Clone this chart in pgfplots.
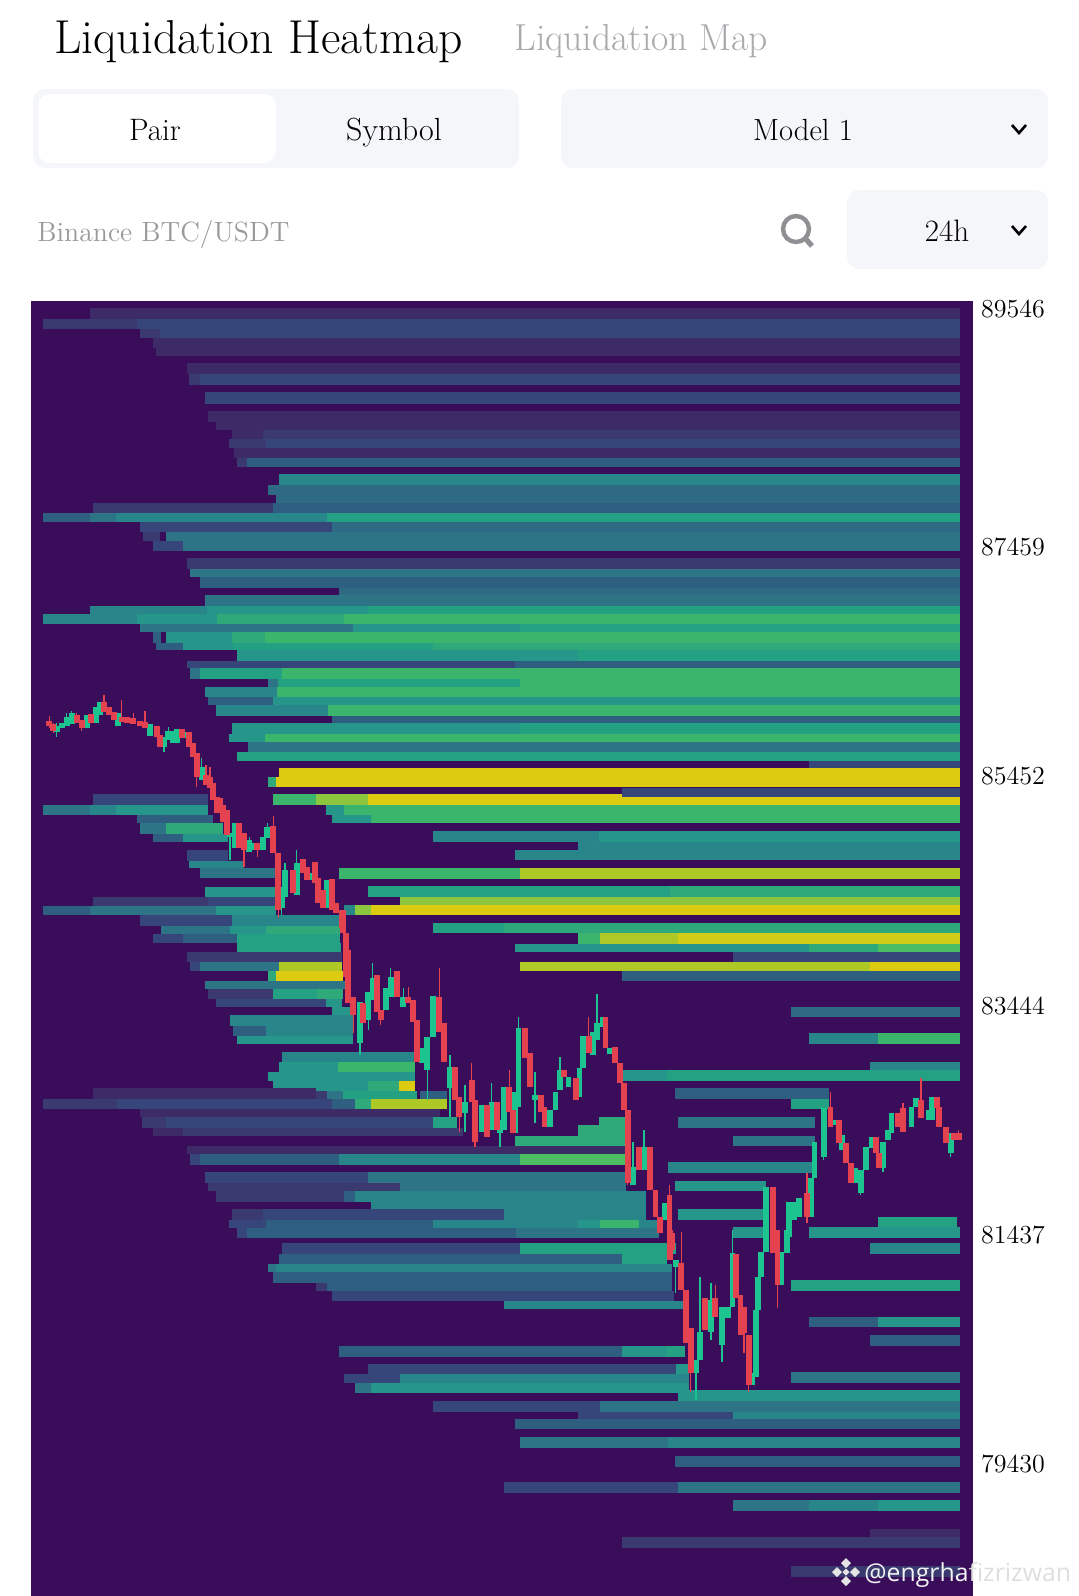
\documentclass[border=0pt]{standalone}
\usepackage{fontspec}
\usepackage{pgfplots}
\usepackage{pgfplotstable}
\pgfplotsset{compat=1.18}
\newfontfamily\wmfont{Open Sans}

\definecolor{bg}{HTML}{3A0D5A}
\definecolor{v1}{HTML}{3C2B66}
\definecolor{v2}{HTML}{3B3A70}
\definecolor{v3}{HTML}{36467A}
\definecolor{v4}{HTML}{2F5F80}
\definecolor{v45}{HTML}{2E6A83}
\definecolor{v5}{HTML}{2C7486}
\definecolor{v6}{HTML}{28868A}
\definecolor{v7}{HTML}{26958A}
\definecolor{v8}{HTML}{24A083}
\definecolor{v9}{HTML}{2FA97A}
\definecolor{v10}{HTML}{3CB56C}
\definecolor{v11}{HTML}{4CBD62}
\definecolor{v12}{HTML}{8CC63F}
\definecolor{v13}{HTML}{AEC826}
\definecolor{v135}{HTML}{D0CC18}
\definecolor{v14}{HTML}{DCCB10}
\definecolor{upc}{HTML}{1CC490}
\definecolor{downc}{HTML}{E5424F}
\definecolor{pill}{HTML}{F5F6FA}
\definecolor{greytxt}{HTML}{A9A9AE}

% one heat band: colour, x from, x to, price top, price bottom
\newcommand{\band}[5]{\addplot[draw=none,fill=#1,forget plot] coordinates {(#2,#4)(#3,#4)(#3,#5)(#2,#5)} -- cycle;}

% candles: x high top bottom low
\pgfplotstableread{
x h t b l
49.3 85981 85940 85893 85873
53.3 85917 85911 85852 85829
76.7 86004 85990 85922 85922
81.7 85946 85946 85873 85852
90.7 85998 85998 85922 85922
104 86165 86106 86019 86019
109.3 86057 86057 85990 85990
114 86019 86019 85946 85946
121.7 86121 85975 85931 85931
126.7 85969 85969 85922 85922
133.3 86004 85960 85911 85911
140 85940 85940 85893 85893
145 86028 85931 85873 85873
156.7 85893 85893 85794 85794
160 85814 85814 85712 85712
181.7 85864 85864 85785 85785
189.3 85844 85844 85712 85712
192.7 85741 85741 85625 85625
196.7 85654 85654 85449 85362
206 85552 85464 85376 85376
210 85537 85449 85347 85347
213.3 85391 85391 85245 85245
216.7 85274 85274 85128 85128
220 85260 85260 85172 85172
223.3 85201 85201 85055 85055
226.7 85157 85157 84938 84938
239.3 85041 85041 84822 84822
244 84953 84953 84807 84661
257.3 84865 84865 84807 84749
273.3 85105 85017 84778 84778
278.3 84778 84778 84281 84208
292.7 84632 84632 84427 84427
302.7 84725 84725 84603 84603
306.7 84661 84661 84544 84544
315 84705 84705 84515 84515
318.3 84559 84559 84340 84340
323.3 84457 84457 84296 84296
331.7 84550 84550 84281 84281
336 84340 84340 84252 84252
341.7 84281 84281 84121 84121
343.3 84281 84281 84077 84077
346 84077 84077 83697 83697
348.3 83931 83931 83464 83464
353.3 83522 83522 83362 83201
363.3 83464 83464 83289 83289
376.7 83712 83712 83391 83391
380.7 83405 83405 83318 83274
396.7 83750 83750 83522 83522
408.3 83610 83522 83464 83464
412.7 83493 83493 83303 83303
417.3 83318 83318 82953 82953
439.3 83770 83522 83216 83216
444 83289 83289 82953 82953
455 82909 82909 82617 82617
459.3 82646 82646 82471 82340
471.7 82938 82792 82602 82602
475 82617 82617 82252 82208
486.7 82573 82573 82296 82296
496.7 82602 82602 82354 82354
509.3 82880 82734 82515 82515
513.3 82529 82529 82325 82325
525 83245 83245 82982 82982
529.6 83026 83026 82734 82734
540.7 82661 82661 82515 82515
544.4 82559 82559 82383 82383
563.6 82880 82880 82821 82821
576 82807 82807 82617 82617
588.8 83347 83178 83026 83026
605.5 83341 83341 83070 83070
614.7 83084 83084 82938 82938
620 82938 82938 82763 82763
624 82763 82763 82529 82529
627.7 82529 82529 81887 81872
638.8 82208 82208 82004 82004
650 82208 82208 81829 81829
655.4 81829 81829 81595 81595
660 81595 81595 81449 81449
669.5 81872 81785 81449 81449
672 81449 81449 81303 81303
670 81478 81478 81215 81215
681.3 81463 81186 80952 80952
686 80952 80952 80485 80485
690.6 80617 80617 80222 80062
705 80879 80879 80602 80602
715.3 80996 80879 80719 80719
736 81268 81268 80879 80879
740.5 80909 80909 80558 80558
744 80806 80806 80573 80398
748.6 80558 80558 80120 80062
773 81852 81852 81274 81274
777.5 81478 81478 80996 80792
807 81975 81799 81595 81537
830.4 82690 82559 82383 82383
838.6 82442 82442 82237 82237
846 82237 82237 82062 82062
850.8 82062 82062 81887 81887
875.6 82296 82296 82150 82150
879 82150 82150 82018 82018
897.8 82500 82500 82383 82383
903 82588 82544 82340 82340
921 82807 82617 82456 82456
936.6 82646 82646 82544 82544
939 82559 82559 82383 82383
946 82383 82383 82237 82237
954 82325 82325 82267 82267
958.8 82354 82325 82267 82267
}\downtable

\pgfplotstableread{
x h t b l
56.7 85917 85893 85844 85800
61.7 85917 85917 85873 85873
66.7 86004 85969 85893 85893
71.7 86028 86004 85911 85911
86.7 85990 85990 85873 85873
96 86057 86057 85917 85917
100 86106 86106 85990 85990
118.3 86010 86010 85893 85893
150 85911 85911 85806 85806
164 85794 85794 85712 85668
168.3 85887 85852 85771 85771
173.3 85852 85852 85741 85741
177.3 85864 85864 85741 85741
185.7 85844 85844 85785 85785
201.7 85610 85537 85420 85420
230 84953 84953 84924 84719
235 85041 85041 84822 84822
249.3 84924 84895 84792 84792
253.3 84865 84865 84807 84807
262.7 84924 84924 84807 84807
267.3 85041 85011 84909 84909
281.7 84486 84486 84296 84238
285 84690 84632 84398 84398
296.7 84807 84690 84413 84413
310.7 84603 84603 84544 84544
327.3 84544 84544 84296 84296
360 83478 83478 83113 83011
368.3 83566 83566 83318 83230
372.7 83820 83683 83493 83493
386 83595 83595 83405 83405
390.7 83770 83697 83522 83522
403.3 83595 83522 83435 83435
421.7 83070 83070 82938 82938
427.3 83172 83172 82880 82617
433.3 83528 83528 83172 83172
450 83011 82909 82719 82471
465 82748 82602 82500 82340
481.7 82573 82573 82340 82340
491.7 82763 82602 82354 82354
500 82442 82442 82325 82208
504 82734 82734 82354 82354
515 82690 82690 82325 82325
518.5 83347 83245 82559 82559
535 82865 82661 82617 82413
550 82529 82529 82383 82383
555.5 82690 82690 82529 82529
560 82997 82880 82705 82705
568.5 82821 82821 82734 82734
579.5 82894 82894 82646 82646
583 83178 83178 82894 82894
593 83216 83216 83011 83011
597 83546 83289 83143 83143
602.5 83341 83341 83259 83259
610 83070 83070 83020 83020
633 82252 82033 81872 81872
644 82354 82208 82004 82004
665 81712 81712 81566 81566
675.8 81215 81215 81157 80923
696 80339 80339 80222 79989
700 81069 80587 80339 80339
711 81011 80865 80587 80514
722 80806 80806 80471 80325
727.6 80806 80806 80704 80704
732.4 81478 81279 80806 80806
752 80222 80222 80120 80120
756 80777 80777 80193 80193
758 81069 81069 80777 80777
761 81288 81288 81069 81069
765.7 81852 81852 81288 81288
781 81288 81288 80996 80996
786.8 81478 81478 81274 81274
788.6 81726 81726 81420 81420
794 81726 81726 81566 81566
799 81755 81755 81595 81595
810.8 81931 81931 81595 81595
814.5 82252 82252 81931 81931
823.8 82544 82544 82121 82091
834.9 82442 82442 82398 82398
842 82310 82310 82179 82179
855 82018 82018 81887 81887
860.8 82004 82004 81799 81785
866 82208 82208 82004 82004
872 82296 82296 82194 82194
883 82252 82252 82018 81989
887.8 82354 82354 82267 82267
891.5 82500 82500 82325 82325
911.4 82559 82559 82383 82383
916 82631 82631 82559 82559
928.5 82529 82529 82442 82442
932 82646 82646 82442 82442
950.7 82325 82325 82150 82121
}\uptable

\begin{document}
\begin{tikzpicture}[x=0.5pt,y=-0.5pt]
\path[use as bounding box] (0,0) rectangle (1079,1596);
\coordinate (axpos) at (31,1596);

% header
\node[anchor=base west,inner sep=0pt,font=\fontsize{23.8}{24}\selectfont] at (54,53) {Liquidation Heatmap};
\node[anchor=base west,inner sep=0pt,text=greytxt,font=\fontsize{18.8}{18.8}\selectfont] at (514,50) {Liquidation Map};
\fill[pill,rounded corners=6pt] (33,89) rectangle (519,168);
\fill[white,rounded corners=6pt] (38,94) rectangle (276,163);
\fill[pill,rounded corners=6pt] (561,89) rectangle (1048,168);
\fill[pill,rounded corners=6pt] (847,190) rectangle (1048,269);
\node[font=\fontsize{15.5}{15.5}\selectfont,anchor=base] at (155,140) {Pair};
\node[font=\fontsize{16}{16}\selectfont,anchor=base] at (394,140) {Symbol};
\node[font=\fontsize{15.3}{15.3}\selectfont,anchor=base] at (803,140) {Model 1};
\node[font=\fontsize{15.5}{15.5}\selectfont,anchor=base] at (947,241) {24h};
\node[anchor=base west,inner sep=0pt,text=greytxt!90!black,font=\fontsize{13.9}{13.9}\selectfont] at (37,241) {Binance BTC/USDT};
\draw[black,line width=1.3pt] (1012,125) -- (1019,133) -- (1026,125);
\draw[black,line width=1.3pt] (1012,226) -- (1019,234) -- (1026,226);
\draw[greytxt!85!black,line width=2.2pt] (796,229) circle[radius=13];
\draw[greytxt!85!black,line width=2.6pt] (805,238) -- (812,246);

\begin{axis}[
    at={(axpos)},anchor=south west,
    scale only axis,width=471pt,height=647.5pt,
    xmin=31,xmax=973,ymin=78272,ymax=89616,
    axis background/.style={fill=bg},
    axis line style={draw=none},
    xtick=\empty,
    ytick={89546,87459,85452,83444,81437,79430},
    yticklabels={89546,87459,85452,83444,81437,79430},
    scaled y ticks=false,
    yticklabel pos=right,
    major tick length=0pt,
    yticklabel style={anchor=west,xshift=0.5pt,font=\fontsize{13}{13}\selectfont},
]
% upper bands
\band{v1}{90}{960}{89555}{89459}
\band{v2}{43}{137}{89459}{89371}
\band{v3}{137}{960}{89459}{89371}
\band{v2}{140}{160}{89371}{89292}
\band{v3}{160}{960}{89371}{89292}
\band{v1}{153}{960}{89292}{89205}
\band{v1}{156}{960}{89205}{89134}
\band{v1}{187}{960}{89073}{88977}
\band{v2}{189}{200}{88977}{88880}
\band{v3}{200}{960}{88977}{88880}
\band{v3}{205}{960}{88819}{88714}
\band{v1}{208}{960}{88653}{88556}
\band{v1}{216}{960}{88556}{88486}
\band{v1}{232}{263}{88486}{88407}
\band{v2}{263}{960}{88486}{88407}
\band{v2}{229}{266}{88407}{88329}
\band{v3}{266}{960}{88407}{88329}
\band{v1}{234}{960}{88329}{88241}
\band{v2}{237}{247}{88241}{88162}
\band{v4}{247}{960}{88241}{88162}
\band{v6}{279}{960}{88101}{88004}
\band{v45}{268}{960}{88004}{87917}
\band{v45}{276}{960}{87917}{87847}
\band{v2}{93}{273}{87847}{87759}
\band{v4}{273}{960}{87847}{87759}
\band{v4}{43}{90}{87759}{87680}
\band{v5}{90}{116}{87759}{87680}
\band{v6}{116}{327}{87759}{87680}
\band{v8}{327}{960}{87759}{87680}
\band{v3}{140}{332}{87680}{87593}
\band{v45}{332}{960}{87680}{87593}
\band{v2}{143}{160}{87593}{87514}
\band{v5}{166}{960}{87593}{87514}
\band{v3}{153}{183}{87514}{87426}
\band{v5}{183}{960}{87514}{87426}
\band{v2}{187}{960}{87365}{87269}
\band{v5}{190}{960}{87269}{87198}
\band{v4}{200}{960}{87198}{87102}
\band{v45}{339}{960}{87102}{87041}
\band{v5}{205}{960}{87041}{86944}
\band{v6}{90}{207}{86944}{86874}
\band{v7}{207}{368}{86944}{86874}
\band{v8}{368}{960}{86944}{86874}
\band{v6}{43}{137}{86874}{86787}
\band{v7}{137}{217}{86874}{86787}
\band{v9}{217}{344}{86874}{86787}
\band{v10}{344}{960}{86874}{86787}
\band{v5}{140}{353}{86787}{86717}
\band{v7}{353}{520}{86787}{86717}
\band{v8}{520}{960}{86787}{86717}
\band{v4}{153}{161}{86717}{86620}
\band{v7}{166}{232}{86717}{86620}
\band{v9}{232}{265}{86717}{86620}
\band{v10}{265}{960}{86717}{86620}
\band{v4}{156}{183}{86620}{86559}
\band{v7}{183}{233}{86620}{86559}
\band{v8}{233}{433}{86620}{86559}
\band{v9}{433}{960}{86620}{86559}
\band{v7}{237}{578}{86559}{86463}
\band{v8}{578}{960}{86559}{86463}
\band{v3}{187}{515}{86463}{86401}
\band{v4}{515}{960}{86463}{86401}
\band{v5}{190}{200}{86401}{86305}
\band{v8}{200}{282}{86401}{86305}
\band{v10}{282}{960}{86401}{86305}
\band{v5}{268}{278}{86305}{86235}
\band{v8}{278}{520}{86305}{86235}
\band{v10}{520}{960}{86305}{86235}
\band{v6}{205}{277}{86235}{86147}
\band{v10}{277}{960}{86235}{86147}
\band{v4}{208}{273}{86147}{86077}
\band{v7}{273}{960}{86147}{86077}
\band{v6}{216}{328}{86077}{85981}
\band{v10}{328}{960}{86077}{85981}
\band{v4}{332}{960}{85981}{85920}
\band{v7}{232}{520}{85920}{85823}
\band{v8}{520}{960}{85920}{85823}
\band{v7}{229}{265}{85823}{85753}
\band{v10}{265}{960}{85823}{85753}
\band{v5}{248}{960}{85753}{85665}
\band{v8}{237}{960}{85665}{85587}
\band{v3}{809}{960}{85587}{85525}
\band{v14}{279}{960}{85525}{85446}
\band{v9}{268}{276}{85446}{85359}
\band{v14}{276}{960}{85446}{85359}
\band{v10}{273}{316}{85298}{85201}
\band{v12}{316}{368}{85298}{85201}
\band{v14}{368}{960}{85298}{85201}
\band{v3}{622}{960}{85350}{85271}
\band{v7}{326}{344}{85201}{85114}
\band{v10}{344}{960}{85201}{85114}
\band{v7}{332}{371}{85114}{85044}
\band{v10}{371}{960}{85114}{85044}
\band{v6}{433}{599}{84973}{84877}
\band{v7}{599}{960}{84973}{84877}
\band{v6}{578}{960}{84877}{84807}
\band{v6}{515}{960}{84807}{84719}
\band{v10}{339}{520}{84649}{84553}
\band{v13}{520}{960}{84649}{84553}
\band{v8}{368}{670}{84492}{84395}
\band{v9}{670}{960}{84492}{84395}
\band{v12}{400}{960}{84395}{84325}
\band{v6}{344}{355}{84325}{84238}
\band{v12}{355}{371}{84325}{84238}
\band{v14}{371}{960}{84325}{84238}
\band{v8}{433}{504}{84168}{84080}
\band{v9}{504}{960}{84168}{84080}
\band{v10}{578}{600}{84080}{83984}
\band{v13}{600}{678}{84080}{83984}
\band{v135}{678}{960}{84080}{83984}
\band{v7}{515}{809}{83984}{83913}
\band{v9}{809}{878}{83984}{83913}
\band{v11}{878}{960}{83984}{83913}
\band{v3}{733}{960}{83913}{83826}
\band{v13}{520}{870}{83826}{83747}
\band{v14}{870}{960}{83826}{83747}
\band{v4}{622}{960}{83747}{83659}
% left block above the first drop
\band{v3}{93}{208}{85298}{85201}
\band{v5}{43}{90}{85201}{85114}
\band{v6}{90}{116}{85201}{85114}
\band{v7}{116}{208}{85201}{85114}
\band{v4}{137}{213}{85114}{85044}
\band{v5}{140}{166}{85044}{84947}
\band{v9}{166}{223}{85044}{84947}
\band{v4}{153}{183}{84947}{84877}
\band{v7}{183}{228}{84947}{84877}
\band{v3}{187}{228}{84807}{84711}
\band{v6}{189}{244}{84711}{84649}
\band{v5}{200}{276}{84649}{84561}
\band{v7}{205}{276}{84483}{84395}
\band{v2}{93}{208}{84395}{84316}
\band{v3}{208}{276}{84395}{84316}
\band{v4}{43}{90}{84316}{84238}
\band{v5}{90}{216}{84316}{84238}
\band{v7}{216}{276}{84316}{84238}
\band{v3}{140}{232}{84238}{84141}
\band{v6}{232}{340}{84238}{84141}
\band{v5}{161}{230}{84141}{84071}
\band{v7}{230}{266}{84141}{84071}
\band{v9}{266}{340}{84141}{84071}
\band{v3}{153}{183}{84071}{83992}
\band{v4}{183}{237}{84071}{83992}
\band{v8}{237}{340}{84071}{83992}
\band{v8}{237}{341}{83992}{83913}
\band{v2}{187}{342}{83913}{83826}
\band{v3}{190}{200}{83826}{83747}
\band{v5}{200}{279}{83826}{83747}
\band{v13}{279}{342}{83826}{83747}
\band{v9}{268}{276}{83747}{83659}
\band{v14}{276}{343}{83747}{83659}
\band{v5}{205}{345}{83659}{83589}
\band{v2}{208}{273}{83589}{83502}
\band{v8}{273}{317}{83589}{83502}
\band{v9}{317}{343}{83589}{83502}
\band{v3}{216}{326}{83502}{83432}
\band{v7}{326}{342}{83502}{83432}
\band{v7}{332}{353}{83432}{83362}
\band{v6}{230}{353}{83362}{83265}
\band{v4}{233}{266}{83265}{83178}
\band{v6}{266}{353}{83265}{83178}
\band{v7}{237}{353}{83178}{83108}
% middle block
\band{v6}{282}{415}{83037}{82950}
\band{v7}{279}{338}{82950}{82862}
\band{v10}{338}{415}{82950}{82862}
\band{v7}{268}{415}{82862}{82783}
\band{v7}{273}{368}{82783}{82696}
\band{v9}{368}{399}{82783}{82696}
\band{v14}{399}{415}{82783}{82696}
\band{v1}{93}{316}{82722}{82626}
\band{v2}{316}{327}{82696}{82626}
\band{v5}{327}{343}{82696}{82626}
\band{v8}{343}{417}{82696}{82626}
\band{v4}{420}{447}{82696}{82626}
\band{v2}{43}{117}{82626}{82538}
\band{v3}{117}{332}{82626}{82538}
\band{v4}{332}{355}{82626}{82538}
\band{v9}{355}{371}{82626}{82538}
\band{v13}{371}{447}{82626}{82538}
\band{v1}{140}{440}{82538}{82468}
\band{v2}{142}{166}{82468}{82372}
\band{v3}{166}{433}{82468}{82372}
\band{v8}{433}{457}{82468}{82372}
\band{v1}{153}{183}{82372}{82302}
\band{v2}{183}{463}{82372}{82302}
\band{v9}{599}{626}{82468}{82398}
\band{v9}{578}{626}{82398}{82302}
\band{v9}{515}{626}{82302}{82214}
\band{v1}{187}{626}{82214}{82144}
\band{v3}{190}{200}{82144}{82048}
\band{v4}{200}{339}{82144}{82048}
\band{v6}{339}{520}{82144}{82048}
\band{v11}{520}{626}{82144}{82048}
\band{v3}{205}{368}{81986}{81890}
\band{v5}{368}{626}{81986}{81890}
\band{v2}{208}{400}{81890}{81820}
\band{v5}{400}{626}{81890}{81820}
\band{v2}{216}{344}{81820}{81723}
\band{v4}{344}{355}{81820}{81723}
\band{v6}{355}{646}{81820}{81723}
\band{v6}{371}{646}{81723}{81662}
\band{v2}{232}{263}{81662}{81566}
\band{v3}{263}{504}{81662}{81566}
\band{v6}{504}{646}{81662}{81566}
\band{v3}{229}{266}{81566}{81496}
\band{v4}{266}{433}{81566}{81496}
\band{v6}{433}{578}{81566}{81496}
\band{v7}{578}{600}{81566}{81496}
\band{v10}{600}{639}{81566}{81496}
\band{v6}{639}{659}{81566}{81496}
\band{v3}{237}{247}{81496}{81408}
\band{v4}{247}{516}{81496}{81408}
\band{v5}{516}{659}{81496}{81408}
\band{v3}{282}{520}{81364}{81268}
\band{v8}{520}{676}{81364}{81268}
\band{v4}{279}{622}{81268}{81180}
\band{v8}{622}{667}{81268}{81180}
\band{v5}{268}{276}{81180}{81110}
\band{v6}{276}{672}{81180}{81110}
\band{v4}{273}{672}{81110}{81014}
\band{v2}{316}{327}{81014}{80944}
\band{v4}{327}{672}{81014}{80944}
\band{v3}{332}{674}{80944}{80856}
\band{v6}{504}{683}{80856}{80786}
\band{v4}{339}{622}{80462}{80366}
\band{v7}{622}{667}{80462}{80366}
\band{v8}{667}{685}{80462}{80366}
\band{v3}{368}{676}{80304}{80217}
\band{v7}{676}{689}{80304}{80217}
\band{v3}{344}{400}{80217}{80138}
\band{v6}{400}{689}{80217}{80138}
\band{v5}{355}{371}{80138}{80050}
\band{v7}{371}{689}{80138}{80050}
% right hand rows
\band{v45}{791}{960}{83432}{83344}
\band{v6}{809}{878}{83204}{83108}
\band{v10}{878}{960}{83204}{83108}
\band{v6}{870}{960}{82950}{82880}
\band{v7}{623}{667}{82880}{82783}
\band{v8}{667}{960}{82880}{82783}
\band{v4}{675}{829}{82722}{82626}
\band{v8}{791}{829}{82626}{82538}
\band{v5}{678}{815}{82468}{82372}
\band{v5}{733}{815}{82302}{82214}
\band{v6}{668}{813}{82074}{81976}
\band{v7}{675}{766}{81907}{81820}
\band{v7}{678}{765}{81662}{81566}
\band{v8}{878}{957}{81592}{81504}
\band{v7}{733}{763}{81504}{81408}
\band{v7}{809}{960}{81504}{81408}
\band{v6}{870}{960}{81364}{81268}
\band{v8}{791}{960}{81040}{80944}
\band{v4}{809}{878}{80716}{80628}
\band{v7}{878}{960}{80716}{80628}
\band{v4}{870}{960}{80558}{80462}
\band{v5}{791}{960}{80234}{80138}
% bottom rows
\band{v7}{678}{960}{80077}{79980}
\band{v3}{433}{600}{79980}{79884}
\band{v5}{600}{960}{79980}{79884}
\band{v3}{578}{733}{79884}{79823}
\band{v6}{733}{960}{79884}{79823}
\band{v4}{515}{960}{79823}{79735}
\band{v5}{520}{668}{79665}{79569}
\band{v6}{668}{960}{79665}{79569}
\band{v4}{675}{960}{79498}{79402}
\band{v3}{504}{678}{79271}{79174}
\band{v5}{678}{960}{79271}{79174}
\band{v5}{733}{809}{79113}{79017}
\band{v6}{809}{878}{79113}{79017}
\band{v7}{878}{960}{79113}{79017}
\band{v1}{870}{960}{78859}{78789}
\band{v2}{622}{960}{78789}{78693}
\band{v2}{791}{960}{78535}{78438}

% candles: wick then body, both as error bars from the table
\addplot[draw=none,no markers,forget plot,error bars/.cd,y dir=plus,y explicit,error mark=none,
    error bar style={draw=upc,line width=0.55pt}]
    table[x=x,y=l,y error plus expr=\thisrow{h}-\thisrow{l}] {\uptable};
\addplot[draw=none,no markers,forget plot,error bars/.cd,y dir=plus,y explicit,error mark=none,
    error bar style={draw=upc,line width=2.9pt}]
    table[x=x,y=b,y error plus expr=\thisrow{t}-\thisrow{b}] {\uptable};
\addplot[draw=none,no markers,forget plot,error bars/.cd,y dir=plus,y explicit,error mark=none,
    error bar style={draw=downc,line width=0.55pt}]
    table[x=x,y=l,y error plus expr=\thisrow{h}-\thisrow{l}] {\downtable};
\addplot[draw=none,no markers,forget plot,error bars/.cd,y dir=plus,y explicit,error mark=none,
    error bar style={draw=downc,line width=2.9pt}]
    table[x=x,y=b,y error plus expr=\thisrow{t}-\thisrow{b}] {\downtable};
\end{axis}

% watermark
\begin{scope}[shift={(846,1572)},fill=white!90!black]
\fill (0,-14) -- (5,-9) -- (0,-4) -- (-5,-9) -- cycle;
\fill (0,14) -- (5,9) -- (0,4) -- (-5,9) -- cycle;
\fill (-9,-5) -- (-4,0) -- (-9,5) -- (-14,0) -- cycle;
\fill (9,-5) -- (14,0) -- (9,5) -- (4,0) -- cycle;
\fill (0,-3.5) -- (3.5,0) -- (0,3.5) -- (-3.5,0) -- cycle;
\end{scope}
\node[anchor=base west,inner sep=0pt,font=\wmfont\fontsize{12.4}{12.4}\selectfont] at (864,1581)
    {\textcolor{white!95!black}{@engrha}\textcolor{black!13}{fizrizwan}};
\end{tikzpicture}
\end{document}
